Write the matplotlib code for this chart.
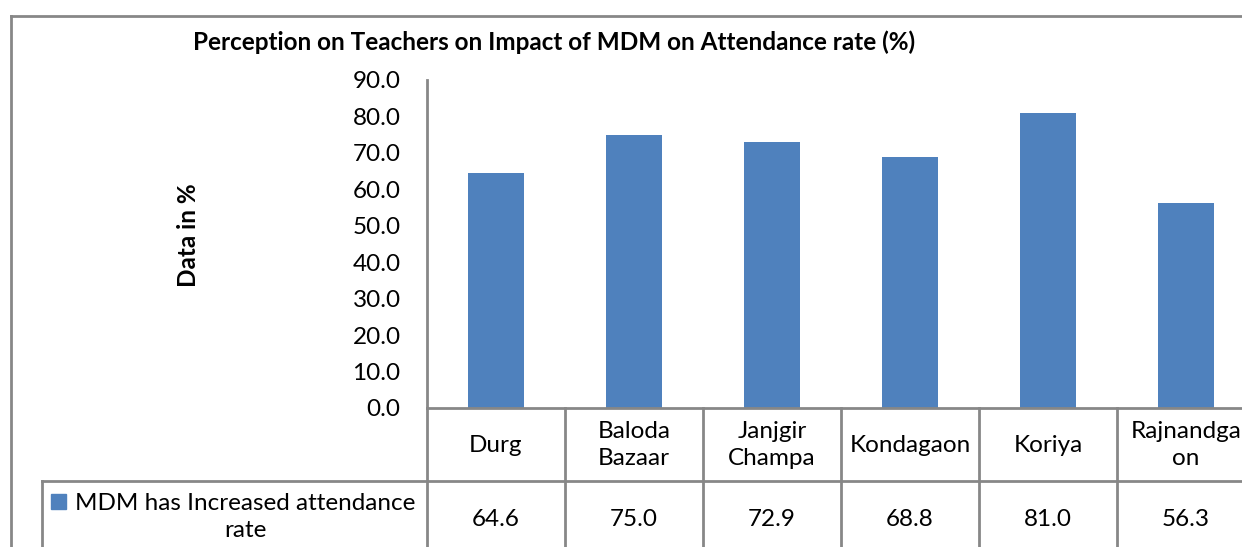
import matplotlib
matplotlib.use('Agg')
import matplotlib.pyplot as plt
from matplotlib.lines import Line2D
from matplotlib.patches import Rectangle
from matplotlib.transforms import blended_transform_factory

districts = ['Durg', 'Baloda\nBazaar', 'Janjgir\nChampa', 'Kondagaon', 'Koriya', 'Rajnandga\non']
values = [64.6, 75.0, 72.9, 68.8, 81.0, 56.3]
series_name = 'MDM has Increased attendance\nrate'
title = 'Perception on Teachers on Impact of MDM on Attendance rate (%)'
y_ticks = [0, 10, 20, 30, 40, 50, 60, 70, 80, 90]

W, H = 1242, 547
BLUE = '#4F81BD'
GRID = '#878787'
FONT = 'Lato'
FS = 17.5

plt.rcParams['font.family'] = FONT


def fx(x):
    return x / W


def fy(y):
    return 1 - y / H


fig = plt.figure(figsize=(W / 100, H / 100), dpi=100)

# plot area in pixels
left, right, top, base = 427, 1255, 80, 408
ax = fig.add_axes([fx(left), fy(base), fx(right - left), (base - top) / H])
x = list(range(len(values)))
ax.bar(x, values, width=0.4, color=BLUE)
ax.set_xlim(-0.5, len(values) - 0.5)
ax.set_ylim(0, 90)
ax.set_yticks(y_ticks)
ax.set_yticklabels([f'{t:.1f}' for t in y_ticks], fontsize=17.5)
ax.tick_params(axis='y', length=0, pad=19)
ax.set_xticks([])
for s in ['top', 'right']:
    ax.spines[s].set_visible(False)
for s in ['left', 'bottom']:
    ax.spines[s].set_color(GRID)
    ax.spines[s].set_linewidth(2)


def fline(xs, ys, lw=2):
    fig.add_artist(Line2D([fx(v) for v in xs], [fy(v) for v in ys],
                          color=GRID, lw=lw, transform=fig.transFigure,
                          clip_on=False))


# outer chart border
fline([11, 11], [16, 560])
fline([11, 1260], [16, 16])

# data table
row_sep = 481
fline([42, 1260], [row_sep, row_sep])
fline([42, 42], [row_sep, 560])
for i in range(len(values) + 1):
    bx = left + i * 138
    fline([bx, bx], [base, 560])

trans = blended_transform_factory(ax.transData, fig.transFigure)
for i, (d, v) in enumerate(zip(districts, values)):
    ax.text(i, fy(445), d, transform=trans, ha='center', va='center',
            fontsize=FS, linespacing=1.3, clip_on=False)
    ax.text(i, fy(519), f'{v:.1f}', transform=trans, ha='center', va='center',
            fontsize=FS, clip_on=False)

# legend key and series name
fig.add_artist(Rectangle((fx(51), fy(509)), fx(15), 15 / H, color=BLUE,
                         transform=fig.transFigure))
fig.text(fx(245), fy(517), series_name, ha='center', va='center',
         fontsize=FS, linespacing=1.3)

fig.text(fx(554), fy(42), title, ha='center', va='center',
         fontsize=17.5, fontweight='bold')
fig.text(fx(188), fy(235), 'Data in %', ha='center', va='center',
         fontsize=17.5, fontweight='bold', rotation=90)

fig.savefig('out.png', dpi=100)
